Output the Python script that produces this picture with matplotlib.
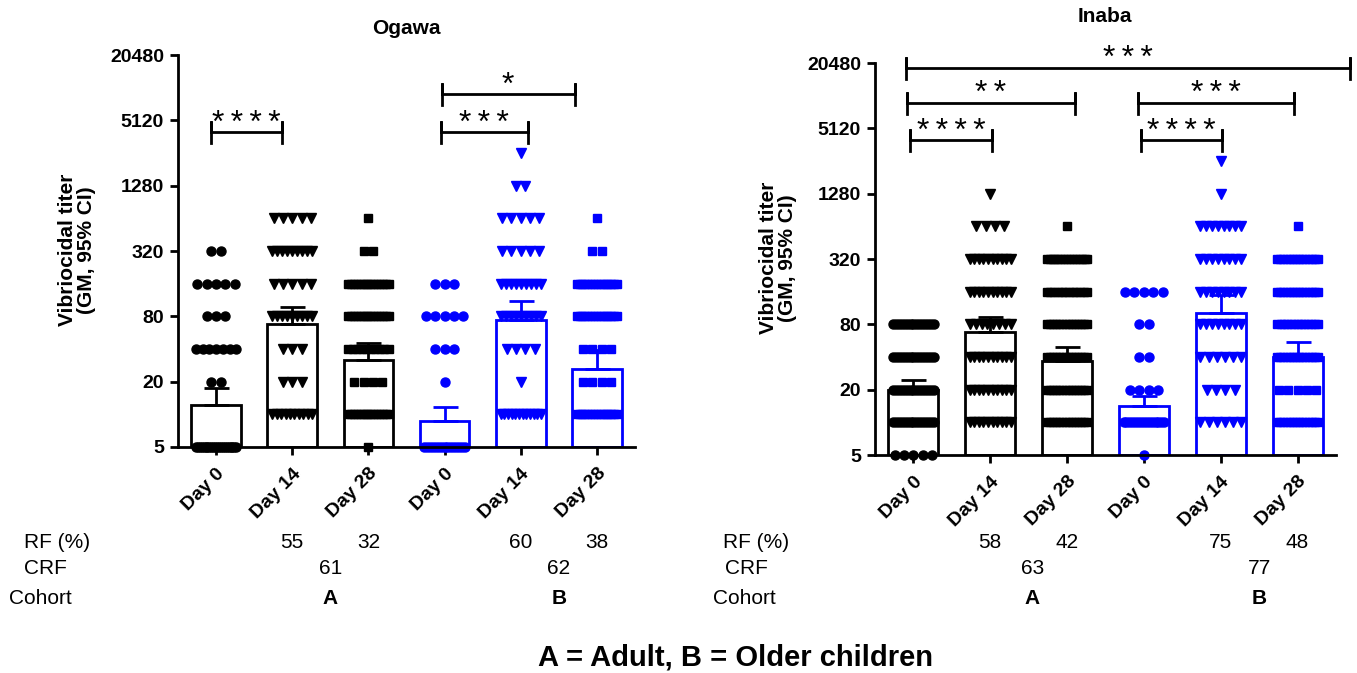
import numpy as np
import matplotlib
matplotlib.use("Agg")
import matplotlib.pyplot as plt
from matplotlib import transforms

plt.rcParams['font.family'] = ['Liberation Sans', 'DejaVu Sans']

# titer levels of the individual points
levels = [5, 10, 20, 40, 80, 160, 320, 640, 1280, 2560]
days = ['Day 0', 'Day 14', 'Day 28', 'Day 0', 'Day 14', 'Day 28']
yticks = [5, 20, 80, 320, 1280, 5120, 20480]

# number of subjects at each level, one row per group (A d0, d14, d28, B d0, d14, d28)
ogawa_counts = [
    [22, 0, 2, 7, 3, 5, 2, 0, 0, 0],
    [0, 10, 3, 3, 9, 5, 9, 5, 0, 0],
    [1, 15, 4, 10, 15, 15, 2, 1, 0, 0],
    [15, 0, 1, 3, 5, 3, 0, 0, 0, 0],
    [0, 12, 1, 4, 9, 9, 5, 5, 2, 1],
    [0, 15, 4, 4, 15, 15, 2, 1, 0, 0],
]
ogawa_gm = [12.2, 67.4, 31.6, 8.7, 73.8, 26.0]
ogawa_ci = [17.6, 97.9, 45.0, 11.7, 111.0, 39.0]
ogawa_rf = [(1, '55'), (2, '32'), (4, '60'), (5, '38')]
ogawa_crf = [(1.5, '61'), (4.5, '62')]

inaba_counts = [
    [5, 15, 15, 15, 15, 0, 0, 0, 0, 0],
    [0, 10, 10, 10, 8, 10, 10, 4, 1, 0],
    [0, 14, 14, 14, 14, 12, 15, 1, 0, 0],
    [1, 15, 4, 2, 2, 5, 0, 0, 0, 0],
    [0, 6, 4, 6, 8, 8, 8, 8, 1, 1],
    [0, 14, 5, 14, 13, 14, 14, 1, 0, 0],
]
inaba_gm = [20.0, 68.2, 36.6, 14.2, 102.8, 39.6]
inaba_ci = [24.5, 93.0, 49.0, 17.6, 148.0, 55.0]
inaba_rf = [(1, '58'), (2, '42'), (4, '75'), (5, '48')]
inaba_crf = [(1.55, '63'), (4.5, '77')]

# significance brackets: x start, x end, level, label
ogawa_sig = [(-0.07, 0.87, 4000, '****'), (2.95, 4.09, 4000, '***'),
             (2.96, 4.71, 9000, '*')]
inaba_sig = [(-0.1, 5.68, 18500, '***'), (-0.08, 2.10, 8800, '**'),
             (-0.04, 1.02, 3970, '****'), (2.96, 4.01, 3970, '****'),
             (2.92, 4.95, 8800, '***')]

colors = ['black'] * 3 + ['#0000ff'] * 3
markers = ['o', 'v', 's'] * 2
msizes = [6.5, 6.8, 5.6] * 2

W, H = 1357, 673
fig = plt.figure(figsize=(W / 100, H / 100), dpi=100)


def px(x0, y0, x1, y1):
    return [x0 / W, 1 - y1 / H, (x1 - x0) / W, (y1 - y0) / H]


def spread(n):
    if n == 1:
        return np.array([0.0])
    w = min((n - 1) * 0.123, 0.53)
    return np.linspace(-w / 2, w / 2, n)


def panel(ax, counts, gm, ci, sig):
    ax.set_yscale('log', base=2)
    for i in range(6):
        c = colors[i]
        ax.bar(i, gm[i] - 5, bottom=5, width=0.65, facecolor='white',
               edgecolor=c, linewidth=2, zorder=1)
        for lev, n in zip(levels, counts[i]):
            if n == 0:
                continue
            ax.plot(i + spread(n), [lev] * n, ls='none', marker=markers[i],
                    ms=msizes[i], color=c, mec=c, clip_on=False, zorder=3)
        ax.errorbar(i, gm[i], yerr=[[0], [ci[i] - gm[i]]], color=c,
                    elinewidth=2, capsize=9, capthick=2, zorder=4)
    for x0, x1, lev, lab in sig:
        f = 1.26
        ax.plot([x0, x0, x0, x0, x1, x1, x1], [lev / f, lev * f, lev, lev, lev, lev * f, lev / f],
                color='black', lw=2, clip_on=False, solid_joinstyle='miter')
        ax.annotate('\u2009'.join(lab), ((x0 + x1) / 2, lev), xytext=(0, 6),
                    textcoords='offset points', ha='center', va='center',
                    fontsize=23, annotation_clip=False)
    ax.set_xlim(-0.5, 5.5)
    ax.set_ylim(5, 20480)
    ax.set_yticks(yticks)
    ax.set_yticklabels([str(t) for t in yticks], fontsize=14, fontweight='bold')
    ax.minorticks_off()
    ax.set_xticks(range(6))
    ax.set_xticklabels(days, rotation=45, ha='right', va='top', rotation_mode='anchor',
                       fontsize=14, fontweight='bold')
    ax.tick_params(width=2, length=6, pad=4)
    ax.tick_params(axis='x', pad=7)
    for s in ['top', 'right']:
        ax.spines[s].set_visible(False)
    for s in ['left', 'bottom']:
        ax.spines[s].set_linewidth(2)
        ax.spines[s].set_zorder(5)


ax1 = fig.add_axes(px(178, 55, 635, 447))
ax2 = fig.add_axes(px(875, 63, 1336, 455))
panel(ax1, ogawa_counts, ogawa_gm, ogawa_ci, ogawa_sig)
panel(ax2, inaba_counts, inaba_gm, inaba_ci, inaba_sig)

fig.text(406 / W, 1 - 28 / H, 'Ogawa', ha='center', va='center', fontsize=15, fontweight='bold')
fig.text(1105 / W, 1 - 16 / H, 'Inaba', ha='center', va='center', fontsize=15, fontweight='bold')

ylab = 'Vibriocidal titer\n(GM, 95% CI)'
fig.text(77 / W, 1 - 250 / H, ylab, rotation=90, ha='center', va='center',
         fontsize=15, fontweight='bold', linespacing=1.0, multialignment='center')
fig.text(778 / W, 1 - 258 / H, ylab, rotation=90, ha='center', va='center',
         fontsize=15, fontweight='bold', linespacing=1.0, multialignment='center')

row_y = {'rf': 1 - 542 / H, 'crf': 1 - 568 / H, 'coh': 1 - 598 / H}
for ax, x_rf, x_crf, x_coh, rf, crf in [(ax1, 24, 24, 9, ogawa_rf, ogawa_crf),
                                        (ax2, 723, 725, 713, inaba_rf, inaba_crf)]:
    fig.text(x_rf / W, row_y['rf'], 'RF (%)', ha='left', va='center', fontsize=15)
    fig.text(x_crf / W, row_y['crf'], 'CRF', ha='left', va='center', fontsize=15)
    fig.text(x_coh / W, row_y['coh'], 'Cohort', ha='left', va='center', fontsize=15)
    tr = transforms.blended_transform_factory(ax.transData, fig.transFigure)
    for x, t in rf:
        ax.text(x, row_y['rf'], t, transform=tr, ha='center', va='center', fontsize=15)
    for x, t in crf:
        ax.text(x, row_y['crf'], t, transform=tr, ha='center', va='center', fontsize=15)
    ax.text(crf[0][0], row_y['coh'], 'A', transform=tr, ha='center', va='center',
            fontsize=15, fontweight='bold')
    ax.text(crf[1][0], row_y['coh'], 'B', transform=tr, ha='center', va='center',
            fontsize=15, fontweight='bold')

fig.text(735 / W, 1 - 657 / H, 'A = Adult, B = Older children', ha='center', va='center',
         fontsize=21, fontweight='bold')

fig.savefig('out.png', dpi=100)
